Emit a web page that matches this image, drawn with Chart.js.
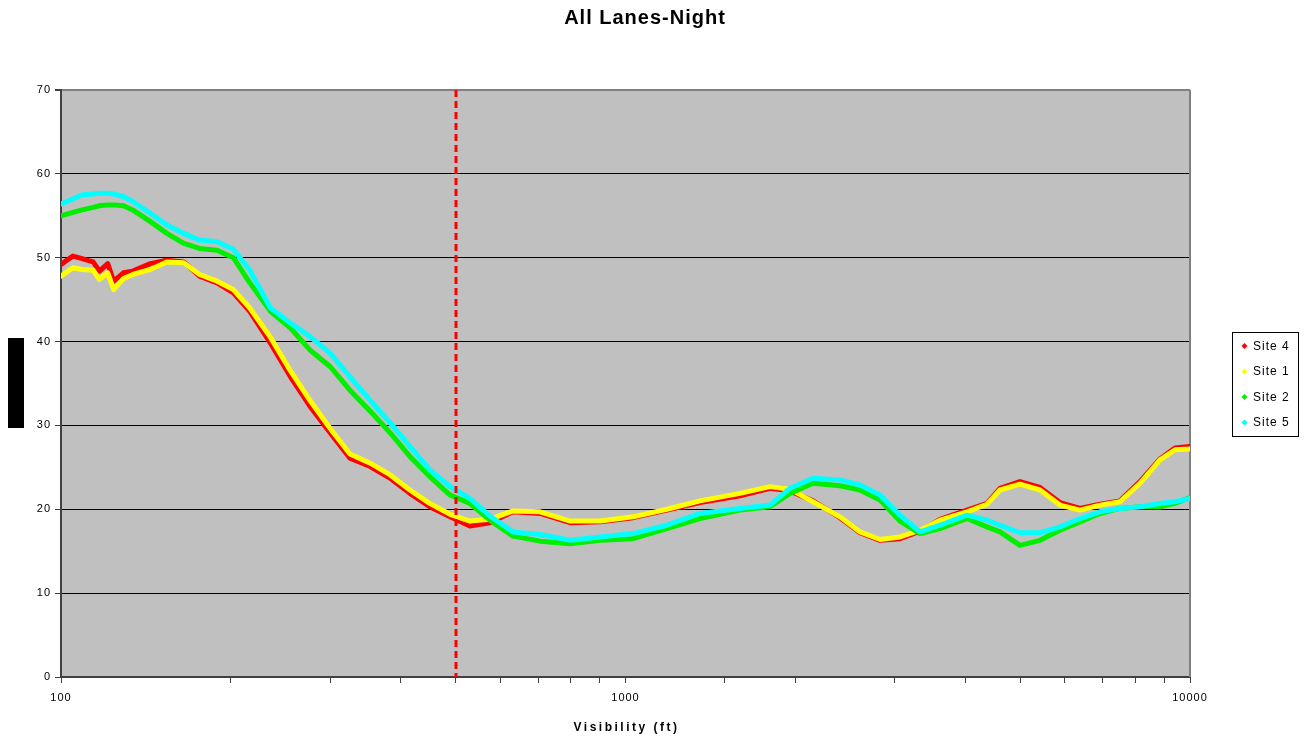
<!DOCTYPE html>
<html>
<head>
<meta charset="utf-8">
<title>All Lanes-Night</title>
<script src="https://cdn.jsdelivr.net/npm/chart.js@4.4.1/dist/chart.umd.min.js"></script>
<style>
  html, body { margin: 0; padding: 0; background: #fff; }
</style>
</head>
<body>
<canvas id="chart" width="1311" height="742"></canvas>
<script>
// Chart texts
const chartTitle = 'All Lanes-Night';
const xAxisTitle = 'Visibility (ft)';
const xLabelTicks = [100, 1000, 10000];
const cutoffVisibility = 500;

const visibility = [100, 105, 109, 114, 117, 121, 124, 129, 134, 144, 154, 165, 176, 189, 202, 216, 235, 255, 276, 300,
    325, 353, 383, 415, 450, 489, 530, 575, 632, 706, 798, 902, 1031, 1184, 1355, 1595, 1803, 1956, 2148, 2399,
    2603, 2824, 3064, 3325, 3607, 4027, 4369, 4607, 4998, 5423, 5884, 6384, 6927, 7515, 8154, 8847, 9407, 10000];

const site4 = [49.2, 50.2, 49.9, 49.5, 48.4, 49.3, 47.2, 48.2, 48.4, 49.3, 49.7, 49.5, 47.8, 47.0, 45.8, 43.6, 39.8, 35.8, 32.3, 29.1,
    26.1, 25.1, 23.7, 21.9, 20.3, 19.1, 18.0, 18.4, 19.7, 19.5, 18.4, 18.5, 19.0, 19.9, 20.8, 21.6, 22.5, 22.2, 21.0, 19.0,
    17.2, 16.3, 16.5, 17.4, 18.8, 19.9, 20.7, 22.5, 23.3, 22.6, 20.8, 20.1, 20.6, 21.0, 23.3, 26.0, 27.3, 27.5];

const site1 = [47.8, 48.8, 48.6, 48.5, 47.4, 48.2, 46.2, 47.5, 48.0, 48.6, 49.5, 49.4, 48.0, 47.2, 46.2, 44.0, 40.5, 36.5, 33.0, 29.6,
    26.6, 25.5, 24.1, 22.3, 20.7, 19.4, 18.6, 18.8, 19.8, 19.7, 18.6, 18.6, 19.1, 20.0, 21.0, 21.9, 22.7, 22.4, 20.9, 19.1,
    17.3, 16.4, 16.7, 17.5, 18.7, 19.7, 20.6, 22.3, 23.0, 22.3, 20.5, 19.9, 20.5, 20.9, 23.1, 25.9, 27.1, 27.2];

const site2 = [55.0, 55.4, 55.7, 56.0, 56.2, 56.3, 56.3, 56.2, 55.7, 54.3, 52.9, 51.7, 51.1, 50.9, 50.0, 47.0, 43.6, 41.6, 39.0, 37.0,
    34.2, 31.7, 29.1, 26.3, 23.9, 21.7, 20.7, 18.7, 16.8, 16.2, 15.9, 16.3, 16.5, 17.7, 18.9, 19.9, 20.3, 21.9, 23.1, 22.8,
    22.3, 21.1, 18.6, 17.1, 17.7, 18.9, 17.9, 17.3, 15.7, 16.3, 17.5, 18.5, 19.5, 20.1, 20.3, 20.3, 20.7, 21.4];

const site5 = [56.4, 57.0, 57.5, 57.6, 57.7, 57.7, 57.6, 57.3, 56.7, 55.3, 53.9, 52.9, 52.1, 51.9, 51.0, 48.5, 44.0, 42.2, 40.6, 38.6,
    35.8, 33.0, 30.3, 27.5, 24.7, 22.7, 21.3, 19.2, 17.3, 17.0, 16.3, 16.7, 17.1, 18.1, 19.5, 20.1, 20.5, 22.5, 23.7, 23.5,
    22.9, 21.7, 19.3, 17.3, 18.1, 19.3, 18.7, 18.1, 17.2, 17.2, 17.9, 18.9, 19.7, 20.1, 20.3, 20.7, 20.9, 21.3];

const seriesLabels = ['Site 4', 'Site 1', 'Site 2', 'Site 5'];
const seriesValues = [site4, site1, site2, site5];
const seriesColors = ['#ff0000', '#ffff00', '#00ee00', '#00ffff'];

const FONT = '"Liberation Sans", Arial, sans-serif';
Chart.defaults.font.family = FONT;
Chart.defaults.font.size = 11;
Chart.defaults.color = '#000';

// background, borders, cut-off line, titles and legend box
const decorations = {
    id: 'decorations',
    beforeDraw(chart) {
        const { ctx, chartArea: a } = chart;
        ctx.save();
        ctx.fillStyle = '#c0c0c0';
        ctx.fillRect(a.left, a.top, a.right - a.left, a.bottom - a.top);
        ctx.restore();
        ctx.letterSpacing = '1px';
    },
    beforeDatasetsDraw(chart) {
        const { ctx, chartArea: a } = chart;
        ctx.save();
        ctx.strokeStyle = '#808080';
        ctx.lineWidth = 2;
        ctx.beginPath();
        ctx.moveTo(a.right, a.top);
        ctx.lineTo(a.right, a.bottom);
        ctx.stroke();
        ctx.restore();
    },
    afterDatasetsDraw(chart) {
        const { ctx, chartArea: a } = chart;
        const x = Math.round(chart.scales.x.getPixelForValue(cutoffVisibility));
        ctx.save();
        ctx.strokeStyle = '#ff0000';
        ctx.lineWidth = 3;
        ctx.setLineDash([7, 4]);
        ctx.beginPath();
        ctx.moveTo(x, a.top);
        ctx.lineTo(x, a.bottom);
        ctx.stroke();
        ctx.restore();
    },
    afterDraw(chart) {
        const { ctx, chartArea: a } = chart;
        ctx.save();
        ctx.fillStyle = '#000';
        ctx.textBaseline = 'middle';
        ctx.textAlign = 'center';

        ctx.letterSpacing = '1px';
        ctx.font = 'bold 20px ' + FONT;
        ctx.fillText(chartTitle, 645, 18);

        ctx.letterSpacing = '2.5px';
        ctx.font = 'bold 12px ' + FONT;
        ctx.fillText(xAxisTitle, (a.left + a.right) / 2 + 1, 728);

        // y axis title box
        ctx.fillRect(8, 338, 16, 90);

        // legend
        const lx = 1232.5, ly = 332.5;
        ctx.fillStyle = '#fff';
        ctx.fillRect(lx, ly, 66, 104);
        ctx.strokeStyle = '#000';
        ctx.lineWidth = 1;
        ctx.strokeRect(lx, ly, 66, 104);
        ctx.letterSpacing = '1px';
        ctx.font = '12px ' + FONT;
        ctx.textAlign = 'left';
        chart.data.datasets.forEach((ds, i) => {
            const y = 346 + i * 25.5;
            ctx.fillStyle = ds.borderColor;
            ctx.beginPath();
            ctx.moveTo(1244.5, y - 3);
            ctx.lineTo(1247.5, y);
            ctx.lineTo(1244.5, y + 3);
            ctx.lineTo(1241.5, y);
            ctx.closePath();
            ctx.fill();
            ctx.fillStyle = '#000';
            ctx.fillText(ds.label, 1253, y + 0.5);
        });
        ctx.restore();
    }
};

const datasets = seriesLabels.map((label, i) => ({
    label: label,
    data: visibility.map((v, k) => ({ x: v, y: seriesValues[i][k] })),
    borderColor: seriesColors[i],
    backgroundColor: seriesColors[i],
    borderWidth: 5,
    borderJoinStyle: 'round',
    borderCapStyle: 'round',
    pointRadius: 0,
    tension: 0,
    order: seriesLabels.length - i
}));

new Chart(document.getElementById('chart'), {
    type: 'line',
    data: { datasets: datasets },
    plugins: [decorations],
    options: {
        responsive: false,
        animation: false,
        layout: { padding: { left: 0, right: 121, top: 90, bottom: 0 } },
        plugins: {
            legend: { display: false },
            title: { display: false },
            tooltip: { enabled: false }
        },
        scales: {
            x: {
                type: 'logarithmic',
                min: 100,
                max: 10000,
                afterFit(s) { s.height = 65; },
                border: { color: '#404040', width: 2 },
                grid: { drawOnChartArea: false, drawTicks: true, tickLength: 6, tickColor: '#404040' },
                ticks: {
                    autoSkip: false,
                    maxRotation: 0,
                    padding: 8,
                    callback: v => xLabelTicks.some(t => Math.abs(t - v) < 1e-6) ? String(v) : ''
                }
            },
            y: {
                min: 0,
                max: 70,
                afterFit(s) { s.width = 61; },
                border: { color: '#404040', width: 2 },
                grid: {
                    color: c => c.tick && c.tick.value === 70 ? '#808080' : '#000',
                    lineWidth: c => c.tick && c.tick.value === 70 ? 2 : 1,
                    tickLength: 6,
                    tickColor: '#404040'
                },
                ticks: { stepSize: 10, padding: 4 }
            }
        }
    }
});
</script>
</body>
</html>
